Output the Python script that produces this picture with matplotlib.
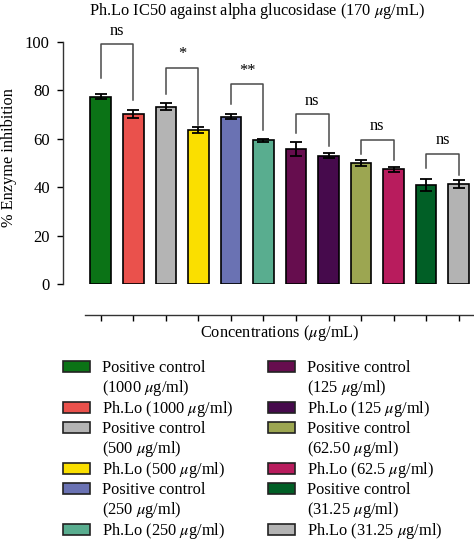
import matplotlib
matplotlib.use("Agg")
import matplotlib.pyplot as plt
from matplotlib.patches import Rectangle

plt.rcParams['font.family'] = ['Liberation Serif', 'DejaVu Serif']
plt.rcParams['mathtext.fontset'] = 'stix'

# ---- data ----
labels = [
    "Positive control\n(1000 $\\mu$g/ml)",
    "Ph.Lo (1000 $\\mu$g/ml)",
    "Positive control\n(500 $\\mu$g/ml)",
    "Ph.Lo (500 $\\mu$g/ml)",
    "Positive control\n(250 $\\mu$g/ml)",
    "Ph.Lo (250 $\\mu$g/ml)",
    "Positive control\n(125 $\\mu$g/ml)",
    "Ph.Lo (125 $\\mu$g/ml)",
    "Positive control\n(62.50 $\\mu$g/ml)",
    "Ph.Lo (62.5 $\\mu$g/ml)",
    "Positive control\n(31.25 $\\mu$g/ml)",
    "Ph.Lo (31.25 $\\mu$g/ml)",
]
values = [77.4, 70.2, 73.3, 63.8, 69.1, 59.4, 55.6, 53.0, 50.0, 47.4, 41.0, 41.3]
errors = [1.0, 1.6, 1.5, 1.2, 1.1, 0.7, 2.9, 1.1, 1.1, 1.1, 2.4, 1.7]
colors = ["#0b7316", "#ea514c", "#b4b4b4", "#fadf00", "#6a72b3", "#59ad8f",
          "#660d4e", "#460a4c", "#9ca651", "#b81c5d", "#015f26", "#b3b3b3"]

# significance brackets: (left bar, right bar, top, left leg end, right leg end, label)
brackets = [
    (0, 1, 99.0, 85.0, 76.0, "ns"),
    (2, 3, 89.4, 78.4, 65.5, "*"),
    (4, 5, 82.6, 74.4, 63.5, "**"),
    (6, 7, 70.1, 62.3, 57.1, "ns"),
    (8, 9, 59.5, 53.7, 51.2, "ns"),
    (10, 11, 53.7, 47.8, 45.0, "ns"),
]

W, H = 474, 542
FS = 11.8
fig = plt.figure(figsize=(W / 100, H / 100), dpi=100)
ax = fig.add_axes([63 / W, (H - 284) / H, (474 - 63) / W, (284 - 42) / H])

x = list(range(len(values)))
ax.bar(x, values, width=0.63, color=colors, edgecolor="black", linewidth=1.2, zorder=2)
ax.errorbar(x, values, yerr=errors, fmt="none", ecolor="black", elinewidth=1.3,
            capsize=4, capthick=1.3, zorder=3)

ax.set_xlim(-1.16, 11.47)
ax.set_ylim(0, 100)
ax.set_yticks([0, 20, 40, 60, 80, 100])
ax.set_xticks(x)
ax.set_xticklabels([])
ax.tick_params(axis="y", direction="out", length=4.5, width=1.0, labelsize=12, pad=5)
ax.tick_params(axis="x", direction="out", length=4.5, width=1.0)
for s in ["top", "right"]:
    ax.spines[s].set_visible(False)
ax.spines["left"].set_linewidth(1.0)
ax.spines["bottom"].set_linewidth(1.0)
ax.spines["bottom"].set_position(("outward", 22))
ax.spines["bottom"].set_bounds(-0.486, 11.47)
ax.spines["left"].set_color("#333333")
ax.spines["bottom"].set_color("#333333")

bc = "#4a4a4a"
for l, r, top, le, re, txt in brackets:
    ax.plot([l, l, r, r], [le, top, top, re], color=bc, lw=1.1, clip_on=False, zorder=4)
    ax.text((l + r) / 2, top + 2.3, txt, ha="center", va="bottom", fontsize=FS,
            clip_on=False)

fig.text(257 / W, 1 - 11 / H, "Ph.Lo IC50 against alpha glucosidase (170 $\\mu$g/mL)",
         ha="center", va="center", fontsize=FS)
fig.text(9 / W, 1 - 158 / H, "% Enzyme inhibition", rotation=90, ha="center",
         va="center", fontsize=FS)
fig.text(279.5 / W, 1 - 333 / H, "Concentrations ($\\mu$g/mL)", ha="center",
         va="center", fontsize=FS)

# legend (two columns, drawn manually)
line_h = 20.35
base0 = 372.0
per_col = 6
for i, (lab, col) in enumerate(zip(labels, colors)):
    c = i // per_col
    j = i % per_col
    start = c * per_col
    nlines = sum(len(labels[k].split("\n")) for k in range(start, start + j))
    px = 63 if c == 0 else 268
    tx = 102 if c == 0 else 307
    yb = base0 + nlines * line_h
    yc = yb - 5.5
    fig.patches.append(Rectangle((px / W, 1 - (yc + 5.5) / H), 27 / W, 11 / H,
                                 transform=fig.transFigure, facecolor=col,
                                 edgecolor="#222222", linewidth=1.2))
    for m, part in enumerate(lab.split("\n")):
        fig.text(tx / W, 1 - (yb + m * line_h) / H, part, ha="left",
                 va="baseline", fontsize=FS)

fig.savefig("out.png", dpi=100)
